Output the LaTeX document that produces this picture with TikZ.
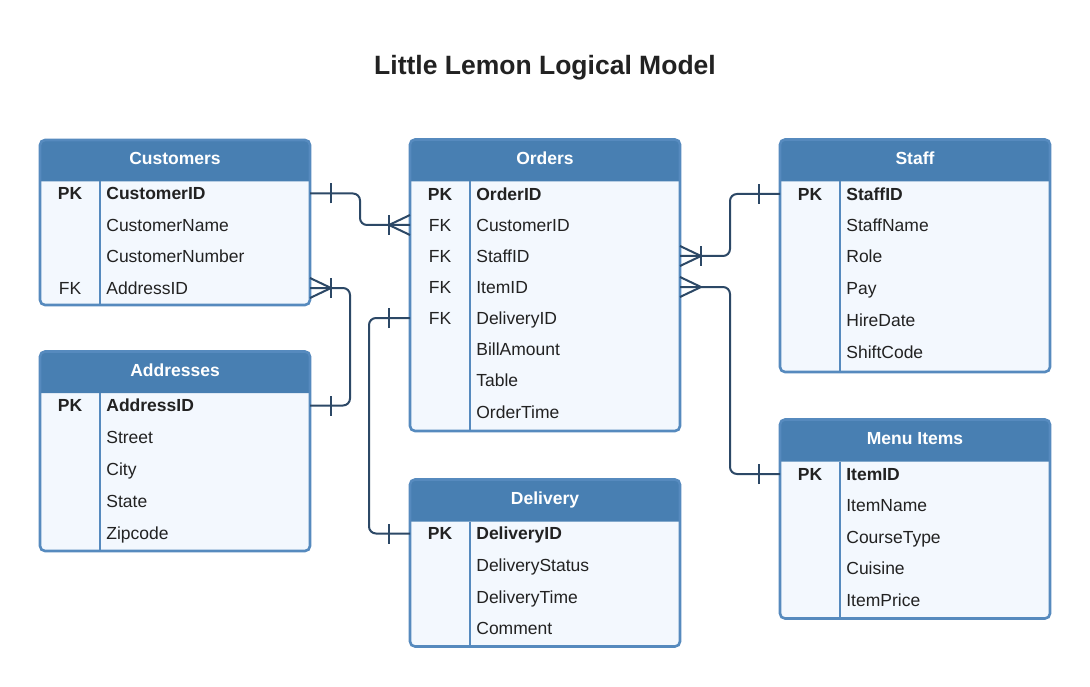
\documentclass[tikz,border=0pt]{standalone}
\usepackage{fontspec}
\setmainfont{Liberation Sans}

\definecolor{hdrblue}{RGB}{72,127,178}
\definecolor{frameblue}{RGB}{86,138,190}
\definecolor{bodyblue}{RGB}{243,248,254}
\definecolor{linknavy}{RGB}{44,72,102}
\definecolor{inkgray}{RGB}{34,34,34}

\newcommand\rowfont{\fontsize{17.5}{21}\selectfont}

\tikzset{every picture/.style={line width=0.75pt},
	tblframe/.style={rectangle, rounded corners=5, fill=bodyblue, inner sep=0, outer sep=0, anchor=north west},
	frameline/.style={draw=frameblue, line width=2.6, rounded corners=5},
	hdrfill/.style={fill=hdrblue},
	divline/.style={draw=frameblue, line width=2.6},
	celltxt/.style={inner sep=0, text height=12.5, text depth=0},
	hdrtxt/.style={celltxt, text=white, font=\rowfont\bfseries},
	keypk/.style={celltxt, text=inkgray, font=\rowfont\bfseries},
	keyfk/.style={celltxt, text=inkgray, font=\rowfont},
	fldpk/.style={celltxt, text=inkgray, font=\rowfont\bfseries, anchor=west},
	fldtxt/.style={celltxt, text=inkgray, font=\rowfont, anchor=west},
	relline/.style={draw=linknavy, line width=2, rounded corners=7},
	relmark/.style={draw=linknavy, line width=2},
	onemark/.pic={\draw[relmark] (21,-10) -- (21,10);},
	crowmark/.pic={\draw[relmark] (0,-10) -- (21,0) -- (0,10);},
}

\begin{document}
\begin{tikzpicture}[x=1pt,y=1pt,yscale=-1,xscale=1]
	
	\useasboundingbox[fill=white] (0,0) rectangle (1090,687);
	
	% Text Node
	\node[text=inkgray, font=\fontsize{26.5}{32}\selectfont\bfseries] (title) at (545,68) {Little Lemon Logical Model};
	
	%Shape: Table [id:customers]
	\node[tblframe, minimum width=270, minimum height=165] (cust) at (40,140) {};
	\fill[hdrfill] (40,181.5) [rounded corners=5] -- (40,140) -- (310,140) [sharp corners] -- (310,181.5) -- cycle;
	\draw[divline] (100,181.5) -- (100,305);
	\draw[frameline] (cust.north west) rectangle (cust.south east);
	% Text Node
	\node[hdrtxt] (cust-h) at (175,158) {Customers};
	\node[keypk] (c-k1) at (70,193.5) {PK};
	\node[fldpk] (c-custid) at (106,193.5) {CustomerID};
	\node[fldtxt] (c-name) at (106,225) {CustomerName};
	\node[fldtxt] (c-num) at (106,256.5) {CustomerNumber};
	\node[keyfk] (c-k4) at (70,288) {FK};
	\node[fldtxt] (c-addrid) at (106,288) {AddressID};
	
	%Shape: Table [id:addresses]
	\node[tblframe, minimum width=270, minimum height=199.5] (addr) at (40,351.5) {};
	\fill[hdrfill] (40,393) [rounded corners=5] -- (40,351.5) -- (310,351.5) [sharp corners] -- (310,393) -- cycle;
	\draw[divline] (100,393) -- (100,551);
	\draw[frameline] (addr.north west) rectangle (addr.south east);
	% Text Node
	\node[hdrtxt] (addr-h) at (175,370) {Addresses};
	\node[keypk] (a-k1) at (70,405.5) {PK};
	\node[fldpk] (a-addrid) at (106,405.5) {AddressID};
	\node[fldtxt] (a-street) at (106,437) {Street};
	\node[fldtxt] (a-city) at (106,469) {City};
	\node[fldtxt] (a-state) at (106,501) {State};
	\node[fldtxt] (a-zip) at (106,533) {Zipcode};
	
	%Shape: Table [id:orders]
	\node[tblframe, minimum width=270, minimum height=291.5] (ord) at (410,139.5) {};
	\fill[hdrfill] (410,181.5) [rounded corners=5] -- (410,139.5) -- (680,139.5) [sharp corners] -- (680,181.5) -- cycle;
	\draw[divline] (470,181.5) -- (470,431);
	\draw[frameline] (ord.north west) rectangle (ord.south east);
	% Text Node
	\node[hdrtxt] (ord-h) at (545,158) {Orders};
	\node[keypk] (o-k1) at (440,194) {PK};
	\node[fldpk] (o-ordid) at (476,194) {OrderID};
	\node[keyfk] (o-k2) at (440,225) {FK};
	\node[fldtxt] (o-custid) at (476,225) {CustomerID};
	\node[keyfk] (o-k3) at (440,256) {FK};
	\node[fldtxt] (o-staffid) at (476,256) {StaffID};
	\node[keyfk] (o-k4) at (440,287) {FK};
	\node[fldtxt] (o-itemid) at (476,287) {ItemID};
	\node[keyfk] (o-k5) at (440,318) {FK};
	\node[fldtxt] (o-delid) at (476,318) {DeliveryID};
	\node[fldtxt] (o-bill) at (476,349) {BillAmount};
	\node[fldtxt] (o-table) at (476,380.5) {Table};
	\node[fldtxt] (o-time) at (476,412) {OrderTime};
	
	%Shape: Table [id:delivery]
	\node[tblframe, minimum width=270, minimum height=167] (deliv) at (410,479.5) {};
	\fill[hdrfill] (410,521.5) [rounded corners=5] -- (410,479.5) -- (680,479.5) [sharp corners] -- (680,521.5) -- cycle;
	\draw[divline] (470,521.5) -- (470,646.5);
	\draw[frameline] (deliv.north west) rectangle (deliv.south east);
	% Text Node
	\node[hdrtxt] (deliv-h) at (545,498) {Delivery};
	\node[keypk] (d-k1) at (440,533.5) {PK};
	\node[fldpk] (d-delid) at (476,533.5) {DeliveryID};
	\node[fldtxt] (d-status) at (476,565) {DeliveryStatus};
	\node[fldtxt] (d-time) at (476,597) {DeliveryTime};
	\node[fldtxt] (d-comment) at (476,628) {Comment};
	
	%Shape: Table [id:staff]
	\node[tblframe, minimum width=270, minimum height=232.5] (staff) at (780,139.5) {};
	\fill[hdrfill] (780,181.5) [rounded corners=5] -- (780,139.5) -- (1050,139.5) [sharp corners] -- (1050,181.5) -- cycle;
	\draw[divline] (840,181.5) -- (840,372);
	\draw[frameline] (staff.north west) rectangle (staff.south east);
	% Text Node
	\node[hdrtxt] (staff-h) at (915,158) {Staff};
	\node[keypk] (s-k1) at (810,194) {PK};
	\node[fldpk] (s-staffid) at (846,194) {StaffID};
	\node[fldtxt] (s-name) at (846,225) {StaffName};
	\node[fldtxt] (s-role) at (846,256.5) {Role};
	\node[fldtxt] (s-pay) at (846,288) {Pay};
	\node[fldtxt] (s-hire) at (846,320) {HireDate};
	\node[fldtxt] (s-shift) at (846,352) {ShiftCode};
	
	%Shape: Table [id:menuitems]
	\node[tblframe, minimum width=270, minimum height=199] (menu) at (780,419.5) {};
	\fill[hdrfill] (780,461.5) [rounded corners=5] -- (780,419.5) -- (1050,419.5) [sharp corners] -- (1050,461.5) -- cycle;
	\draw[divline] (840,461.5) -- (840,618.5);
	\draw[frameline] (menu.north west) rectangle (menu.south east);
	% Text Node
	\node[hdrtxt] (menu-h) at (915,438) {Menu Items};
	\node[keypk] (m-k1) at (810,474) {PK};
	\node[fldpk] (m-itemid) at (846,474) {ItemID};
	\node[fldtxt] (m-name) at (846,505) {ItemName};
	\node[fldtxt] (m-course) at (846,537) {CourseType};
	\node[fldtxt] (m-cuisine) at (846,568.5) {Cuisine};
	\node[fldtxt] (m-price) at (846,600) {ItemPrice};
	
	% Connectors
	\coordinate (j-cust) at (360,0);
	\coordinate (j-addr) at (350,0);
	\coordinate (j-deliv) at (369,0);
	\coordinate (j-right) at (730,0);
	
	\draw[relline] (cust.east |- c-custid) -- (j-cust |- c-custid) -- (j-cust |- o-custid) -- (ord.west |- o-custid);
	\pic at (cust.east |- c-custid) {onemark};
	\pic[xscale=-1] at (ord.west |- o-custid) {crowmark};
	\pic[xscale=-1] at (ord.west |- o-custid) {onemark};
	
	\draw[relline] (cust.east |- c-addrid) -- (j-addr |- c-addrid) -- (j-addr |- a-addrid) -- (addr.east |- a-addrid);
	\pic at (cust.east |- c-addrid) {crowmark};
	\pic at (cust.east |- c-addrid) {onemark};
	\pic at (addr.east |- a-addrid) {onemark};
	
	\draw[relline] (ord.west |- o-delid) -- (j-deliv |- o-delid) -- (j-deliv |- d-delid) -- (deliv.west |- d-delid);
	\pic[xscale=-1] at (ord.west |- o-delid) {onemark};
	\pic[xscale=-1] at (deliv.west |- d-delid) {onemark};
	
	\draw[relline] (ord.east |- o-staffid) -- (j-right |- o-staffid) -- (j-right |- s-staffid) -- (staff.west |- s-staffid);
	\pic at (ord.east |- o-staffid) {crowmark};
	\pic at (ord.east |- o-staffid) {onemark};
	\pic[xscale=-1] at (staff.west |- s-staffid) {onemark};
	
	\draw[relline] (ord.east |- o-itemid) -- (j-right |- o-itemid) -- (j-right |- m-itemid) -- (menu.west |- m-itemid);
	\pic at (ord.east |- o-itemid) {crowmark};
	\pic[xscale=-1] at (menu.west |- m-itemid) {onemark};
	
\end{tikzpicture}
\end{document}
